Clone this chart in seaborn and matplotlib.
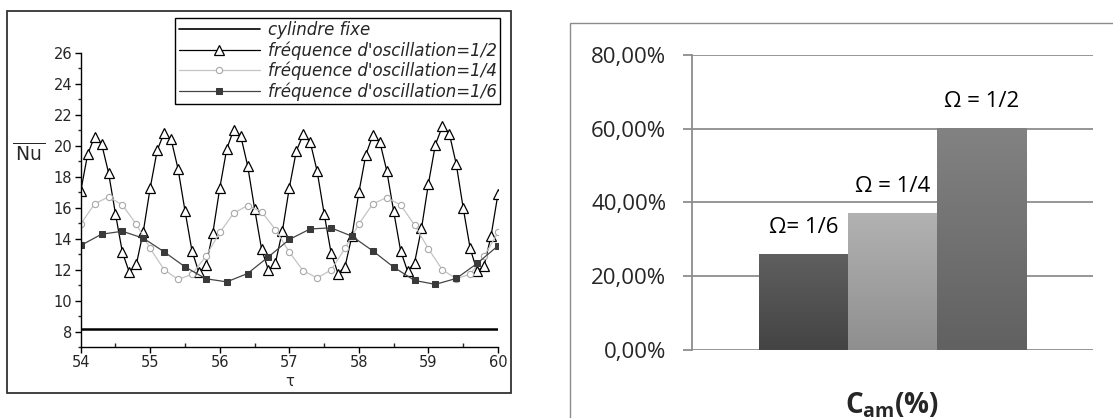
#!/usr/bin/env python3

import seaborn as sns
import pandas as pd
import numpy as np
import matplotlib.pyplot as plt
from matplotlib.patches import Rectangle
from matplotlib.ticker import MultipleLocator, FuncFormatter
from matplotlib.colors import LinearSegmentedColormap

# ---- left panel: Nu over tau ----
tau_half = [54.0, 54.1, 54.2, 54.3, 54.4, 54.5, 54.6, 54.7, 54.8, 54.9,
            55.0, 55.1, 55.2, 55.3, 55.4, 55.5, 55.6, 55.7, 55.8, 55.9,
            56.0, 56.1, 56.2, 56.3, 56.4, 56.5, 56.6, 56.7, 56.8, 56.9,
            57.0, 57.1, 57.2, 57.3, 57.4, 57.5, 57.6, 57.7, 57.8, 57.9,
            58.0, 58.1, 58.2, 58.3, 58.4, 58.5, 58.6, 58.7, 58.8, 58.9,
            59.0, 59.1, 59.2, 59.3, 59.4, 59.5, 59.6, 59.7, 59.8, 59.9, 60.0]
nu_half = [17.06, 19.45, 20.6, 20.14, 18.27, 15.6, 13.11, 11.82, 12.34, 14.46,
           17.3, 19.71, 20.85, 20.42, 18.5, 15.79, 13.21, 11.82, 12.27, 14.37,
           17.28, 19.8, 21.05, 20.66, 18.72, 15.95, 13.34, 11.95, 12.44, 14.5,
           17.3, 19.66, 20.74, 20.25, 18.35, 15.62, 13.08, 11.75, 12.18, 14.18,
           17.0, 19.43, 20.68, 20.27, 18.4, 15.77, 13.21, 11.9, 12.44, 14.66,
           17.56, 20.08, 21.26, 20.79, 18.81, 15.97, 13.37, 11.9, 12.25, 14.18, 16.9]

tau_quarter = [54.0, 54.2, 54.4, 54.6, 54.8, 55.0, 55.2, 55.4, 55.6, 55.8,
               56.0, 56.2, 56.4, 56.6, 56.8, 57.0, 57.2, 57.4, 57.6, 57.8,
               58.0, 58.2, 58.4, 58.6, 58.8, 59.0, 59.2, 59.4, 59.6, 59.8, 60.0]
nu_quarter = [14.95, 16.25, 16.7, 16.18, 14.92, 13.37, 11.99, 11.37, 11.69, 12.87,
              14.4, 15.65, 16.14, 15.75, 14.59, 13.13, 11.92, 11.47, 11.97, 13.37,
              14.95, 16.25, 16.66, 16.18, 14.89, 13.34, 11.99, 11.41, 11.71, 12.87, 14.4]

tau_sixth = [54.0, 54.3, 54.6, 54.9, 55.2, 55.5, 55.8, 56.1, 56.4, 56.7, 57.0,
             57.3, 57.6, 57.9, 58.2, 58.5, 58.8, 59.1, 59.4, 59.7, 60.0]
nu_sixth = [13.56, 14.29, 14.48, 14.03, 13.15, 12.18, 11.41, 11.21, 11.75, 12.83, 13.95,
            14.63, 14.7, 14.16, 13.21, 12.16, 11.3, 11.05, 11.43, 12.4, 13.54]

tau_fixed = [54.0, 60.0]
nu_fixed = [8.15, 8.15]

legend_labels = ["cylindre fixe", "fréquence d'oscillation=1/2",
                 "fréquence d'oscillation=1/4", "fréquence d'oscillation=1/6"]

# ---- right panel: C_am bars ----
omega_labels = ["Ω= 1/6", "Ω = 1/4", "Ω = 1/2"]
cam_values = [26.0, 37.2, 60.1]
bar_top = ["#5f5f5f", "#b2b2b2", "#828282"]
bar_bottom = ["#444444", "#8f8f8f", "#616161"]

sns.set_style("ticks")
plt.rcParams['font.family'] = ['DejaVu Sans']
plt.rcParams['mathtext.fontset'] = 'custom'
plt.rcParams['mathtext.rm'] = 'Open Sans'
plt.rcParams['mathtext.bf'] = 'Open Sans:bold'

fig = plt.figure(figsize=(11.13, 4.18), dpi=100)
W, H = 1113, 418

# frames around the two panels
fig.patches.append(Rectangle((7 / W, 1 - 393 / H), 504 / W, 382 / H, transform=fig.transFigure,
                             fill=False, edgecolor="#333333", linewidth=1.3))
fig.patches.append(Rectangle((570 / W, -0.1), 0.6, 1.1 - 23 / H, transform=fig.transFigure,
                             fill=False, edgecolor="#8c8c8c", linewidth=1.0))

# left plot
ax1 = fig.add_axes([80.7 / W, 1 - 347 / H, 417.3 / W, 294 / H])
sns.lineplot(x=tau_fixed, y=nu_fixed, ax=ax1, color="black", linewidth=1.8,
             label=legend_labels[0])
sns.lineplot(x=tau_half, y=nu_half, ax=ax1, color="black", linewidth=0.9,
             marker="^", markersize=7, markerfacecolor="white", markeredgecolor="black",
             markeredgewidth=0.9, label=legend_labels[1])
sns.lineplot(x=tau_quarter, y=nu_quarter, ax=ax1, color="#c4c4c4", linewidth=0.9,
             marker="o", markersize=4.5, markerfacecolor="white", markeredgecolor="#a8a8a8",
             markeredgewidth=0.8, label=legend_labels[2])
sns.lineplot(x=tau_sixth, y=nu_sixth, ax=ax1, color="#454545", linewidth=0.9,
             marker="s", markersize=4, markerfacecolor="#3a3a3a", markeredgecolor="#3a3a3a",
             label=legend_labels[3])

ax1.set_xlim(54, 60)
ax1.set_ylim(7, 26)
ax1.xaxis.set_major_locator(MultipleLocator(1))
ax1.xaxis.set_minor_locator(MultipleLocator(0.5))
ax1.yaxis.set_minor_locator(MultipleLocator(1))
ax1.set_yticks(np.arange(8, 27, 2))
ax1.tick_params(axis="both", which="major", direction="out", length=4, width=1,
                labelsize=10.5, color="black", pad=2)
ax1.tick_params(axis="x", which="minor", direction="in", length=3, width=1)
ax1.tick_params(axis="y", which="minor", direction="out", length=2.5, width=1)
for side in ["top", "right"]:
    ax1.spines[side].set_visible(False)
for side in ["left", "bottom"]:
    ax1.spines[side].set_color("black")
    ax1.spines[side].set_linewidth(1)
ax1.set_xlabel("τ", fontsize=10.5, labelpad=3)
ax1.set_ylabel(r"$\overline{\mathregular{\,Nu\,}}$", rotation=0, fontsize=13.5)
ax1.yaxis.set_label_coords(-0.125, 0.62)

leg = ax1.legend(loc="upper right", bbox_to_anchor=(500 / W, 1 - 18 / H),
                 bbox_transform=fig.transFigure, frameon=True, fancybox=False,
                 edgecolor="black", framealpha=1, handlelength=4.9, handletextpad=0.45,
                 labelspacing=0.12, borderpad=0.2, borderaxespad=0,
                 prop={"style": "italic", "size": 12})
leg.get_frame().set_linewidth(1)
leg.get_lines()[0].set_linewidth(1.2)

# right plot
df = pd.DataFrame({"cat": ["C"] * 3, "omega": omega_labels, "cam": cam_values})
ax2 = fig.add_axes([692 / W, 1 - 350 / H, 400.6 / W, 295.3 / H])
sns.barplot(data=df, x="cat", y="cam", hue="omega", palette=bar_top, width=2 / 3,
            gap=0, linewidth=0, legend=False, ax=ax2, zorder=3)

# vertical shading on each bar, clipped to the bar itself
for i, patch in enumerate(ax2.patches[:3]):
    x0, y0, w, h = patch.get_x(), patch.get_y(), patch.get_width(), patch.get_height()
    cmap = LinearSegmentedColormap.from_list("g", [bar_bottom[i], bar_top[i]])
    grad = np.linspace(1, 0, 100).reshape(-1, 1)
    im = ax2.imshow(grad, extent=[x0, x0 + w, y0, y0 + h], aspect="auto", cmap=cmap,
                    vmin=0, vmax=1, zorder=4)
    im.set_clip_path(patch)
    ax2.annotate(omega_labels[i], (x0 + w / 2, y0 + h), xytext=(0, 19),
                 textcoords="offset points", ha="center", va="center",
                 fontsize=16, family="Open Sans", color="black")

ax2.set_xlim(-0.5, 0.5)
ax2.set_ylim(0, 80)
ax2.set_yticks([0, 20, 40, 60, 80])
ax2.yaxis.set_major_formatter(FuncFormatter(lambda v, p: f"{v:.2f}%".replace(".", ",")))
ax2.yaxis.grid(True, color="#8e8e8e", linewidth=1.3, zorder=0)
ax2.set_axisbelow(True)
ax2.set_xticks([])
ax2.tick_params(axis="y", length=6.5, width=1.3, color="#8e8e8e", pad=12, labelsize=16)
for lab in ax2.get_yticklabels():
    lab.set_fontfamily("Open Sans")
for side in ["top", "right", "bottom"]:
    ax2.spines[side].set_visible(False)
ax2.spines["left"].set_color("#8e8e8e")
ax2.spines["left"].set_linewidth(1.3)
ax2.set_ylabel("")
ax2.set_xlabel(r"$\mathbf{C_{am}(\%)}$", fontsize=20, labelpad=29)

fig.savefig("out.png", dpi=100, facecolor="white")
